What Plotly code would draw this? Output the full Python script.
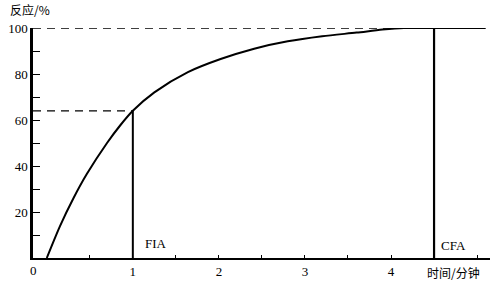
import plotly.graph_objects as go

# Data
curve_x = [0, 0.155, 0.31, 0.465, 0.7, 0.85, 1.0, 1.25, 1.64, 2.02, 2.41, 2.8, 3.2, 3.6, 3.9, 4.15, 4.5, 5.1]
curve_y = [0, 14, 26, 36.5, 50, 57.5, 64, 72, 80.8, 86.5, 91, 94.2, 96.4, 98.0, 99.3, 100, 100, 100]
fia_x = 1.0
fia_y = 64
cfa_x = 4.5
cfa_y = 100
x_ticks = [1, 2, 3, 4, 5]
x_labels = ["1", "2", "3", "4", ""]
y_ticks = [20, 40, 60, 80, 100]
y_labels = ["20", "40", "60", "80", "100"]
x_min, x_max = -0.16, 5.15

serif = "Liberation Serif"
cjk = "Noto Sans CJK SC"

W, H = 493, 283
L, R, T, B = 33, 3, 28, 25
pw = W - L - R
ph = H - T - B

fig = go.Figure()
fig.add_trace(go.Scatter(x=curve_x, y=curve_y, mode="lines",
                         line=dict(color="black", width=2, shape="spline", smoothing=0.8),
                         cliponaxis=False, hoverinfo="skip"))
# dashed guides
fig.add_trace(go.Scatter(x=[x_min, fia_x], y=[fia_y, fia_y], mode="lines",
                         line=dict(color="black", width=1.3, dash="8px,6px"), cliponaxis=False))
fig.add_trace(go.Scatter(x=[x_min, cfa_x], y=[cfa_y, cfa_y], mode="lines",
                         line=dict(color="black", width=1.3, dash="8px,6px"), cliponaxis=False))
# vertical solid lines
fig.add_trace(go.Scatter(x=[fia_x, fia_x], y=[0, fia_y], mode="lines",
                         line=dict(color="black", width=2), cliponaxis=False))
fig.add_trace(go.Scatter(x=[cfa_x, cfa_x], y=[0, cfa_y], mode="lines",
                         line=dict(color="black", width=2.2), cliponaxis=False))

fig.update_layout(
    width=W, height=H,
    margin=dict(l=L, r=R, t=T, b=B, autoexpand=False),
    paper_bgcolor="white", plot_bgcolor="white",
    showlegend=False,
    xaxis=dict(range=[x_min, x_max], showgrid=False, zeroline=False, automargin=False,
               showline=True, linecolor="black", linewidth=2,
               tickmode="array", tickvals=x_ticks, ticktext=x_labels,
               ticks="inside", ticklen=3, tickwidth=1, tickcolor="black",
               minor=dict(tickvals=[0.5, 1.5, 2.5, 3.5, 4.5], ticks="inside", ticklen=3,
                          tickwidth=1, tickcolor="black"),
               tickfont=dict(family=serif, size=13, color="black"), fixedrange=True),
    yaxis=dict(range=[0, 100], showgrid=False, zeroline=False, automargin=False,
               showline=True, linecolor="black", linewidth=2.5,
               tickmode="array", tickvals=y_ticks, ticktext=y_labels,
               ticks="inside", ticklen=7, tickwidth=1.2, tickcolor="black",
               minor=dict(tickvals=[10, 30, 50, 70, 90], ticks="inside", ticklen=7,
                          tickwidth=1.2, tickcolor="black"),
               tickfont=dict(family=serif, size=13, color="black"), fixedrange=True),
    annotations=[
        dict(text="0", x=x_min, y=0, xref="x", yref="y", showarrow=False,
             yanchor="top", yshift=-3, font=dict(family=serif, size=13, color="black")),
        dict(text="反应/%", x=(8 - L) / pw, y=(H - B - 9) / ph, xref="paper", yref="paper",
             showarrow=False, xanchor="left", yanchor="middle",
             font=dict(family=cjk, size=12, color="black")),
        dict(text="时间/分钟", x=(453 - L) / pw, y=(H - B - 272) / ph, xref="paper", yref="paper",
             showarrow=False, xanchor="center", yanchor="middle",
             font=dict(family=cjk, size=12, color="black")),
        dict(text="FIA", x=fia_x, y=0, xref="x", yref="y", showarrow=False,
             xanchor="left", yanchor="bottom", xshift=10, yshift=5,
             font=dict(family=serif, size=13, color="black")),
        dict(text="CFA", x=cfa_x, y=0, xref="x", yref="y", showarrow=False,
             xanchor="left", yanchor="bottom", xshift=5, yshift=3,
             font=dict(family=serif, size=13, color="black")),
    ],
)

fig.write_html("out.html", config={"displayModeBar": False},
               post_script="document.body.style.margin='0';")
